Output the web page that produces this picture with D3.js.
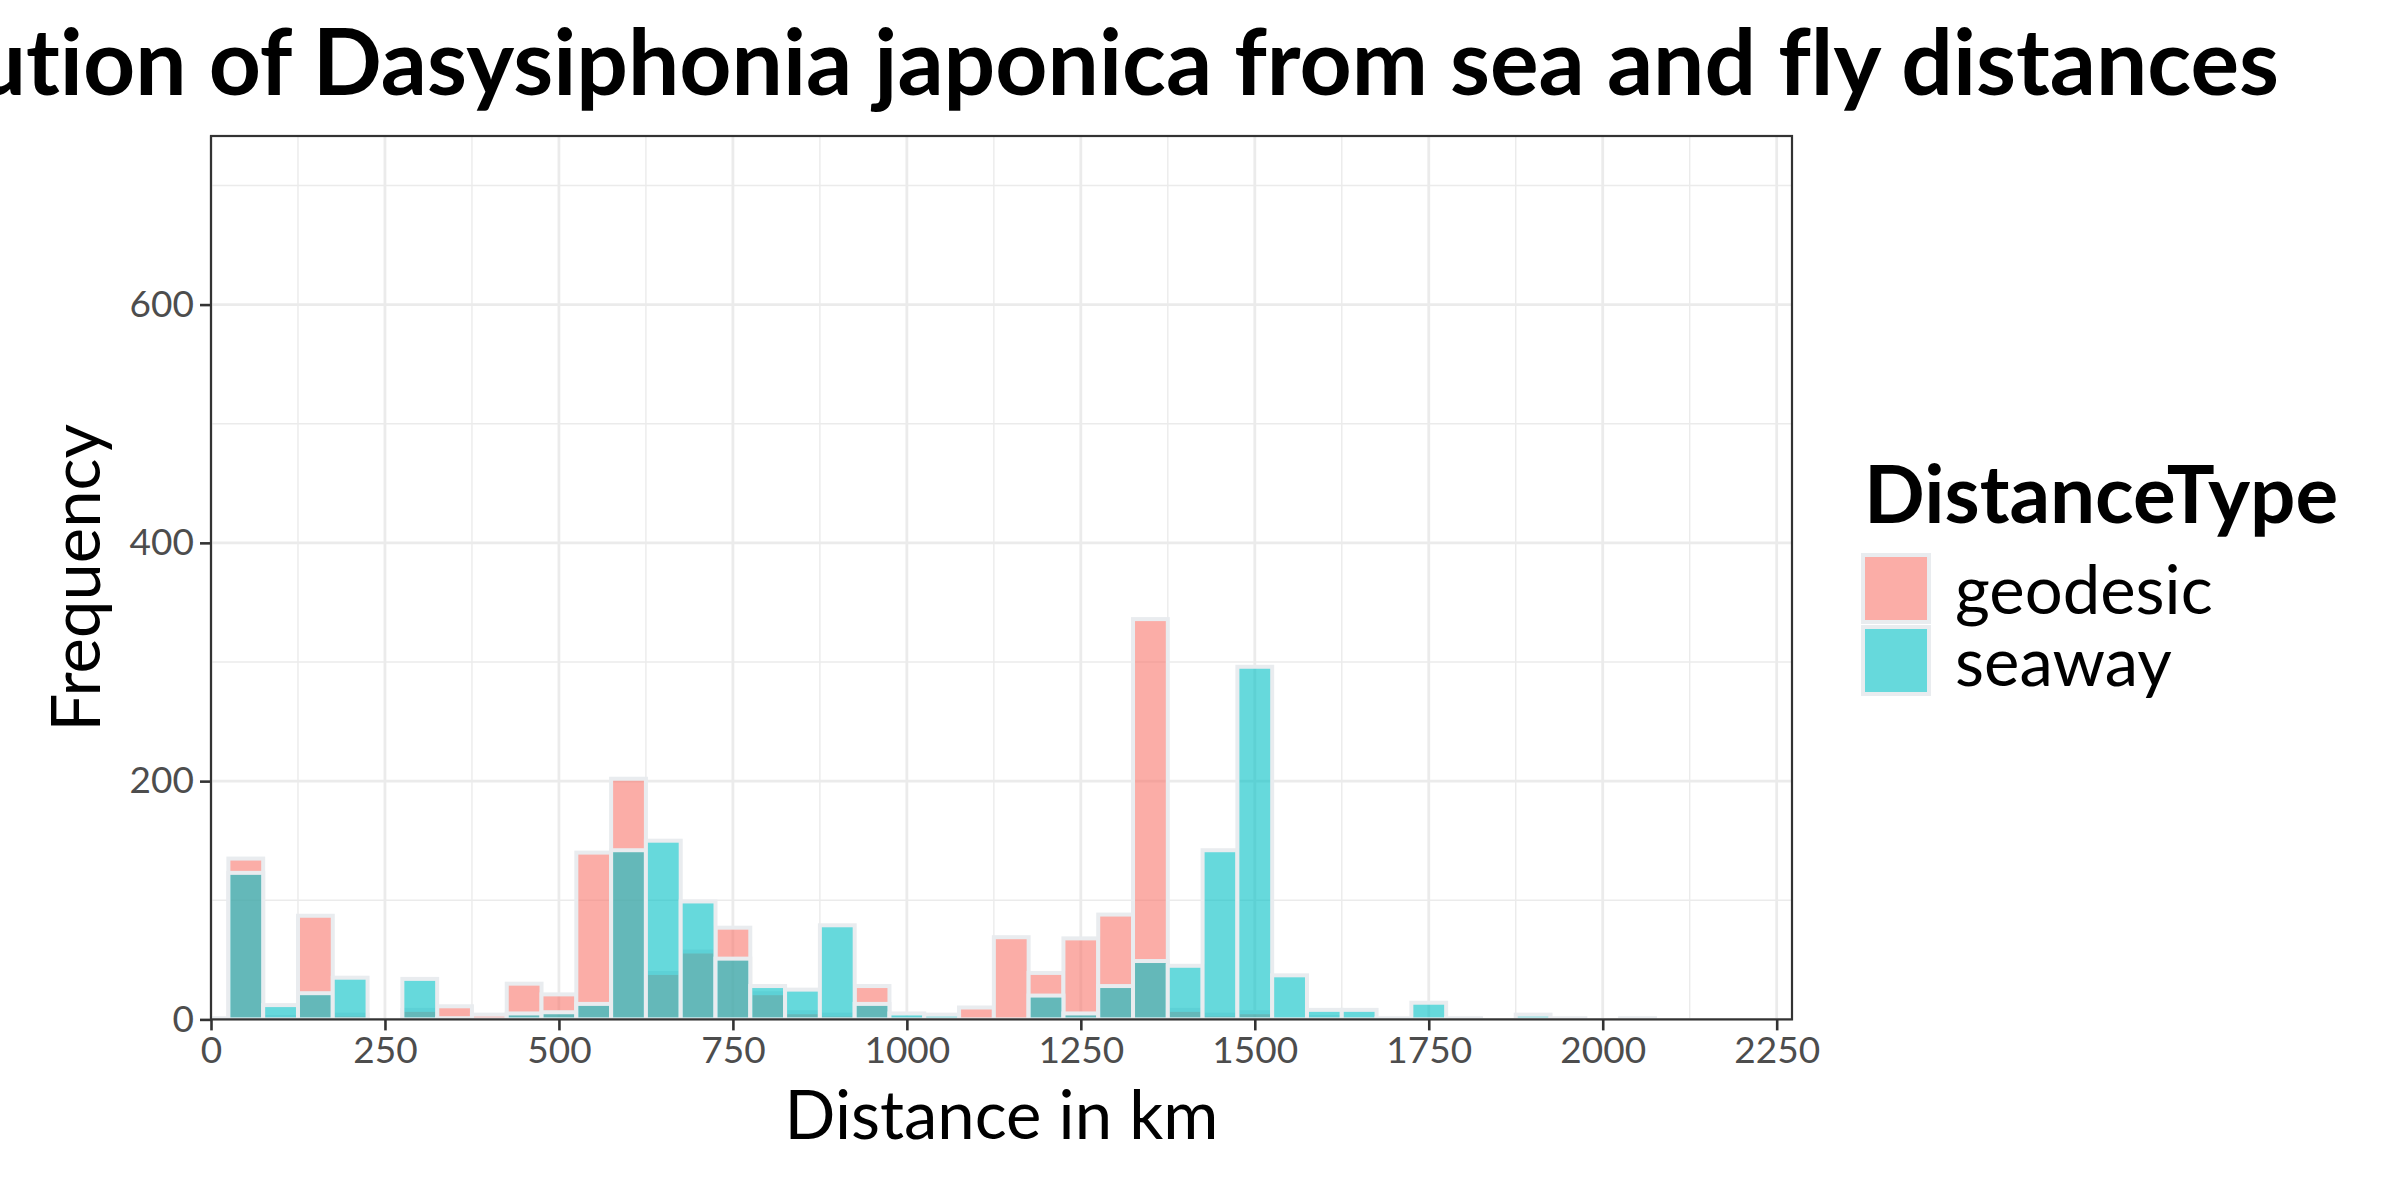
<!DOCTYPE html>
<html>
<head>
<meta charset="utf-8">
<script src="https://cdn.jsdelivr.net/npm/d3@7"></script>
<style>
  html, body { margin: 0; padding: 0; background: #ffffff; }
  svg { display: block; font-family: Lato, "Noto Sans", sans-serif; font-variant-ligatures: none; }
</style>
</head>
<body>
<script>
// ---- data (bin centres in km, bin width 50) ----
const binCenters = [0, 50, 100, 150, 200, 250, 300, 350, 400, 450, 500, 550, 600, 650, 700, 750, 800, 850, 900, 950,
  1000, 1050, 1100, 1150, 1200, 1250, 1300, 1350, 1400, 1450, 1500, 1550, 1600, 1650, 1700, 1750, 1800, 1850, 1900, 1950, 2000, 2050];
const geodesic = [1, 135, 2, 87, 4, 0, 8, 11, 4, 30, 21, 140, 202, 39, 57, 77, 22, 6, 4, 28,
  1, 0, 10, 69, 39, 68, 88, 336, 8, 4, 6, 0, 2, 0, 0, 0, 0, 0, 0, 0, 0, 0];
const seaway = [0, 123, 12, 22, 35, 0, 34, 1, 0, 5, 6, 13, 142, 150, 99, 51, 28, 25, 79, 13,
  5, 4, 0, 0, 20, 5, 28, 49, 45, 142, 296, 37, 8, 8, 1, 14, 1, 0, 4, 1, 0, 1];
const seriesNames = ["geodesic", "seaway"];
const seriesColors = ["#F8766D", "#00BFC4"];
const binWidth = 50;
const xMajorTicks = [0, 250, 500, 750, 1000, 1250, 1500, 1750, 2000, 2250];
const xMinorTicks = [125, 375, 625, 875, 1125, 1375, 1625, 1875, 2125];
const yMajorTicks = [0, 200, 400, 600];
const yMinorTicks = [100, 300, 500, 700];
const titleText = "Distribution of Dasysiphonia japonica from sea and fly distances";
const xTitle = "Distance in km";
const yTitle = "Frequency";
const legendTitle = "DistanceType";

// ---- layout ----
const W = 2400, H = 1200;
const panel = { left: 211, right: 1792, top: 136, bottom: 1019.4 };

const svg = d3.select("body").append("svg").attr("width", W).attr("height", H);
svg.append("rect").attr("width", W).attr("height", H).attr("fill", "#ffffff");

const x = d3.scaleLinear().domain([0, 2272]).range([panel.left, panel.right]);
const y = d3.scaleLinear().domain([0, 741.5]).range([panel.bottom, panel.top]);

// clip
svg.append("defs").append("clipPath").attr("id", "pclip")
  .append("rect").attr("x", panel.left).attr("y", panel.top)
  .attr("width", panel.right - panel.left).attr("height", panel.bottom - panel.top);

const grid = svg.append("g");
// minor grid
grid.selectAll(".xmin").data(xMinorTicks).enter().append("line")
  .attr("x1", d => x(d)).attr("x2", d => x(d)).attr("y1", panel.top).attr("y2", panel.bottom)
  .attr("stroke", "#EBEBEB").attr("stroke-width", 1.4);
grid.selectAll(".ymin").data(yMinorTicks).enter().append("line")
  .attr("y1", d => y(d)).attr("y2", d => y(d)).attr("x1", panel.left).attr("x2", panel.right)
  .attr("stroke", "#EBEBEB").attr("stroke-width", 1.4);
// major grid
grid.selectAll(".xmaj").data(xMajorTicks).enter().append("line")
  .attr("x1", d => x(d)).attr("x2", d => x(d)).attr("y1", panel.top).attr("y2", panel.bottom)
  .attr("stroke", "#EBEBEB").attr("stroke-width", 2.8);
grid.selectAll(".ymaj").data(yMajorTicks).enter().append("line")
  .attr("y1", d => y(d)).attr("y2", d => y(d)).attr("x1", panel.left).attr("x2", panel.right)
  .attr("stroke", "#EBEBEB").attr("stroke-width", 2.8);

// bars
const barsG = svg.append("g").attr("clip-path", "url(#pclip)");
[geodesic, seaway].forEach((vals, si) => {
  const data = binCenters.map((c, i) => ({ c, v: vals[i] })).filter(d => d.v > 0);
  barsG.append("g").selectAll("rect").data(data).enter().append("rect")
    .attr("x", d => x(d.c - binWidth / 2))
    .attr("width", d => x(d.c + binWidth / 2) - x(d.c - binWidth / 2))
    .attr("y", d => y(d.v))
    .attr("height", d => y(0) - y(d.v))
    .attr("fill", seriesColors[si]).attr("fill-opacity", 0.6)
    .attr("stroke", "#E9ECEF").attr("stroke-width", 4);
});

// panel border
svg.append("rect").attr("x", panel.left).attr("y", panel.top)
  .attr("width", panel.right - panel.left).attr("height", panel.bottom - panel.top)
  .attr("fill", "none").attr("stroke", "#333333").attr("stroke-width", 2.2);

// axes
const xAxis = d3.axisBottom(x).tickValues(xMajorTicks).tickSize(11).tickPadding(6).tickFormat(d3.format("d"));
const gx = svg.append("g").attr("transform", `translate(0,${panel.bottom})`).call(xAxis);
gx.select(".domain").remove();
gx.selectAll(".tick line").attr("stroke", "#333333").attr("stroke-width", 2.6);
gx.selectAll(".tick text").attr("fill", "#4D4D4D").attr("font-size", 37).attr("font-family", "Lato");

const yAxis = d3.axisLeft(y).tickValues(yMajorTicks).tickSize(11).tickPadding(6).tickFormat(d3.format("d"));
const gy = svg.append("g").attr("transform", `translate(${panel.left},0)`).call(yAxis);
gy.select(".domain").remove();
gy.selectAll(".tick line").attr("stroke", "#333333").attr("stroke-width", 2.6);
gy.selectAll(".tick text").attr("fill", "#4D4D4D").attr("font-size", 37).attr("font-family", "Lato");

// axis titles
svg.append("text").attr("x", (panel.left + panel.right) / 2).attr("y", 1139)
  .attr("text-anchor", "middle").attr("font-size", 67).attr("fill", "#000").text(xTitle);
svg.append("text").attr("transform", `translate(100,${(panel.top + panel.bottom) / 2}) rotate(-90)`)
  .attr("text-anchor", "middle").attr("font-size", 67).attr("fill", "#000").text(yTitle);

// title (wider than the page on the left, as in the reference)
svg.append("text").attr("x", 2279).attr("y", 95).attr("text-anchor", "end")
  .attr("font-size", 91).attr("font-weight", "bold").attr("fill", "#000").text(titleText);

// legend
const lg = svg.append("g");
lg.append("text").attr("x", 1864).attr("y", 523).attr("font-size", 80).attr("font-weight", "bold")
  .attr("fill", "#000").text(legendTitle);
seriesNames.forEach((name, i) => {
  const top = 555 + i * 72;
  lg.append("rect").attr("x", 1863).attr("y", top).attr("width", 66).attr("height", 67)
    .attr("fill", "#ffffff");
  lg.append("rect").attr("x", 1863).attr("y", top).attr("width", 66).attr("height", 67)
    .attr("fill", seriesColors[i]).attr("fill-opacity", 0.6)
    .attr("stroke", "#E9ECEF").attr("stroke-width", 4);
  lg.append("text").attr("x", 1955).attr("y", top + 59).attr("font-size", 67)
    .attr("fill", "#000").text(name);
});
</script>
</body>
</html>
